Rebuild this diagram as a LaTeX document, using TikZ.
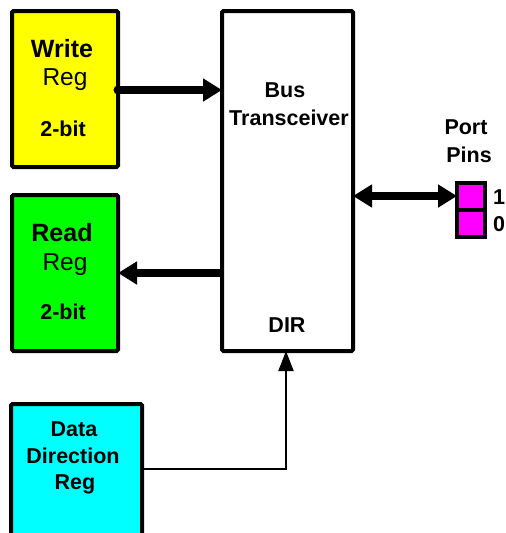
\documentclass[tikz,border=0pt]{standalone}
\usepackage{fontspec}
\setmainfont{Liberation Sans}
\usetikzlibrary{arrows.meta}
\definecolor{regyellow}{RGB}{255,255,0}
\definecolor{reggreen}{RGB}{0,255,0}
\definecolor{regcyan}{RGB}{0,255,255}
\definecolor{pinmag}{RGB}{255,0,255}
\begin{document}
\begin{tikzpicture}[x=1pt,y=-1pt,
  regbox/.style={draw=black,line width=4pt,rounded corners=1.5pt},
  bigtxt/.style={font=\fontsize{25}{27}\selectfont\bfseries,inner sep=0pt},
  regtxt/.style={font=\fontsize{24.5}{27}\selectfont,inner sep=0pt},
  smalltxt/.style={font=\fontsize{21.5}{23}\selectfont\bfseries,inner sep=0pt},
  busarrow/.style={line width=7.5pt,-{Triangle[length=19pt,width=22pt]}},
  thinarrow/.style={line width=2pt,-{Triangle[length=20pt,width=15pt]}}]
\useasboundingbox (0,0) rectangle (506,533);
% boxes
\draw[regbox,fill=regyellow] (12,11) rectangle (118,167);
\coordinate (wr) at (118,90);
\draw[regbox,fill=reggreen] (12,195) rectangle (118,351);
\coordinate (rr) at (118,273);
\draw[regbox,fill=regcyan] (11,404) rectangle (142,545);
\coordinate (dd) at (142,469);
\draw[regbox,fill=white] (222,11) rectangle (353,351);
\coordinate (bwin) at (222,90);
\coordinate (brout) at (222,273);
\coordinate (bport) at (353,196);
\coordinate (bdir) at (286,351);
\coordinate (dcorner) at (286,469);
% pins
\draw[line width=3.5pt,fill=pinmag] (457,183) rectangle (485,210);
\draw[line width=3.5pt,fill=pinmag] (457,210) rectangle (485,237);
\coordinate (pin) at (457,196);
% texts
\node[bigtxt] (wt1) at (62,49) {Write};
\node[regtxt] (wt2) at (65,80) {Reg};
\node[smalltxt] (wt3) at (63,129) {2-bit};
\node[bigtxt] (rt1) at (62,233) {Read};
\node[regtxt] (rt2) at (65,265) {Reg};
\node[smalltxt] (rt3) at (63,312) {2-bit};
\node[smalltxt] (dt1) at (74,429) {Data};
\node[smalltxt] (dt2) at (73,456) {Direction};
\node[smalltxt] (dt3) at (75,484) {Reg};
\node[smalltxt] (bt1) at (285,90) {Bus};
\node[smalltxt] (bt2) at (289,118) {Transceiver};
\node[smalltxt] (bt3) at (287,325) {DIR};
\node[smalltxt] (pt1) at (466,127) {Port};
\node[smalltxt] (pt2) at (469,155) {Pins};
\node[smalltxt,anchor=west] (p1) at (493,197) {1};
\node[smalltxt,anchor=west] (p0) at (493,224) {0};
% connectors
\fill (wr) circle (4.5pt);
\draw[busarrow] (wr) -- (bwin);
\draw[busarrow] (brout) -- (rr);
\draw[line width=7.5pt,{Triangle[length=19pt,width=22pt]}-{Triangle[length=19pt,width=22pt]}] (bport) -- (pin);
\draw[thinarrow] (dd) -- (dcorner) -- (bdir);
\end{tikzpicture}
\end{document}
